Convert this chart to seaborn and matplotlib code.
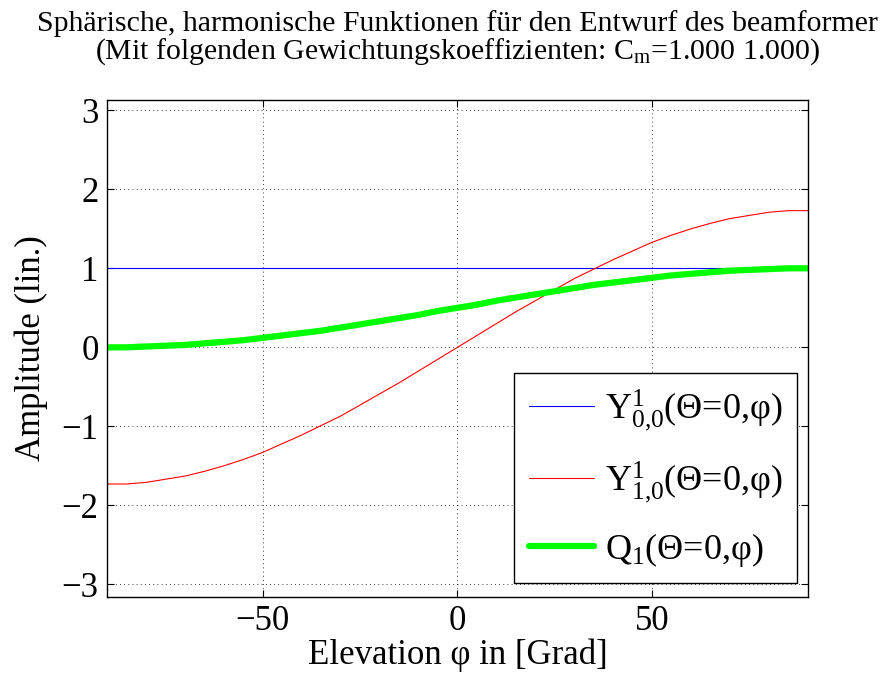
import numpy as np
import pandas as pd
import matplotlib
matplotlib.use('Agg')
import matplotlib.pyplot as plt
import seaborn as sns

# values, elevation in 5 degree steps
elevation = [-90, -85, -80, -75, -70, -65, -60, -55, -50, -45, -40, -35, -30, -25, -20, -15, -10, -5,
             0, 5, 10, 15, 20, 25, 30, 35, 40, 45, 50, 55, 60, 65, 70, 75, 80, 85, 90]
y00 = [1.0] * 37
y10 = [-1.73, -1.73, -1.71, -1.67, -1.63, -1.57, -1.50, -1.42, -1.33, -1.22, -1.11, -0.99, -0.87, -0.73, -0.59, -0.45, -0.30, -0.15,
       0.0, 0.15, 0.30, 0.45, 0.59, 0.73, 0.87, 0.99, 1.11, 1.22, 1.33, 1.42, 1.50, 1.57, 1.63, 1.67, 1.71, 1.73, 1.73]
q1 = [0.0, 0.0, 0.01, 0.02, 0.03, 0.05, 0.07, 0.09, 0.12, 0.15, 0.18, 0.21, 0.25, 0.29, 0.33, 0.37, 0.41, 0.46,
      0.5, 0.54, 0.59, 0.63, 0.67, 0.71, 0.75, 0.79, 0.82, 0.85, 0.88, 0.91, 0.93, 0.95, 0.97, 0.98, 0.99, 1.0, 1.0]

labels = ['Y$^{1}_{0{,}0}$(\u0398=0,\u03c6)',
          'Y$^{1}_{1{,}0}$(\u0398=0,\u03c6)',
          'Q$_{1}$(\u0398=0,\u03c6)']

sns.set_style('white')
plt.rcParams['font.family'] = ['Liberation Serif', 'DejaVu Serif']
plt.rcParams['mathtext.fontset'] = 'custom'
plt.rcParams['mathtext.rm'] = 'Liberation Serif'
plt.rcParams['mathtext.it'] = 'Liberation Serif'
for k in ['text.color', 'axes.labelcolor', 'xtick.color', 'ytick.color']:
    plt.rcParams[k] = 'black'

fig = plt.figure(figsize=(8.87, 6.79), dpi=100)
ax = fig.add_axes([0.1206, 0.1208, 0.7903, 0.7319])

df = pd.DataFrame({'elev': elevation, 'y00': y00, 'y10': y10, 'q1': q1})
sns.lineplot(data=df, x='elev', y='y00', color='#0000ff', lw=0.8, label=labels[0], ax=ax)
sns.lineplot(data=df, x='elev', y='y10', color='#ff0000', lw=0.8, label=labels[1], ax=ax)
sns.lineplot(data=df, x='elev', y='q1', color='#00ff00', lw=4.5, label=labels[2], ax=ax)

ax.set_xlim(-90, 90)
ax.set_ylim(-3.16, 3.13)
ax.set_xticks([-50, 0, 50])
ax.set_yticks([-3, -2, -1, 0, 1, 2, 3])
ax.set_xticklabels(['\u221250', '0', '50'])
ax.set_yticklabels(['\u22123', '\u22122', '\u22121', '0', '1', '2', '3'])
ax.tick_params(direction='in', length=5, width=0.8, labelsize=25, top=True, right=True,
               bottom=True, left=True, pad=6)
ax.grid(True, color='black', linestyle=(0, (1, 4)), linewidth=0.6)
for s in ax.spines.values():
    s.set_color('black')
    s.set_linewidth(1.0)

ax.set_xlabel('Elevation \u03c6 in [Grad]', fontsize=25, labelpad=0)
ax.set_ylabel('Amplitude (lin.)', fontsize=25, labelpad=10)
ax.set_title('Sph\u00e4rische, harmonische Funktionen f\u00fcr den Entwurf des beamformer\n'
             '(Mit folgenden Gewichtungskoeffizienten: C$_\\mathrm{m}$=1.000 1.000)',
             fontsize=21.5, pad=30, linespacing=0.95)

leg = ax.legend(loc='lower right', fontsize=26, frameon=True, fancybox=False,
                edgecolor='black', framealpha=1, borderpad=0.4, handlelength=1.8,
                handletextpad=0.3, labelspacing=0.72, borderaxespad=0,
                bbox_to_anchor=(0.984, 0.028))
leg.get_frame().set_linewidth(1.0)

fig.savefig('out.png', dpi=100)
